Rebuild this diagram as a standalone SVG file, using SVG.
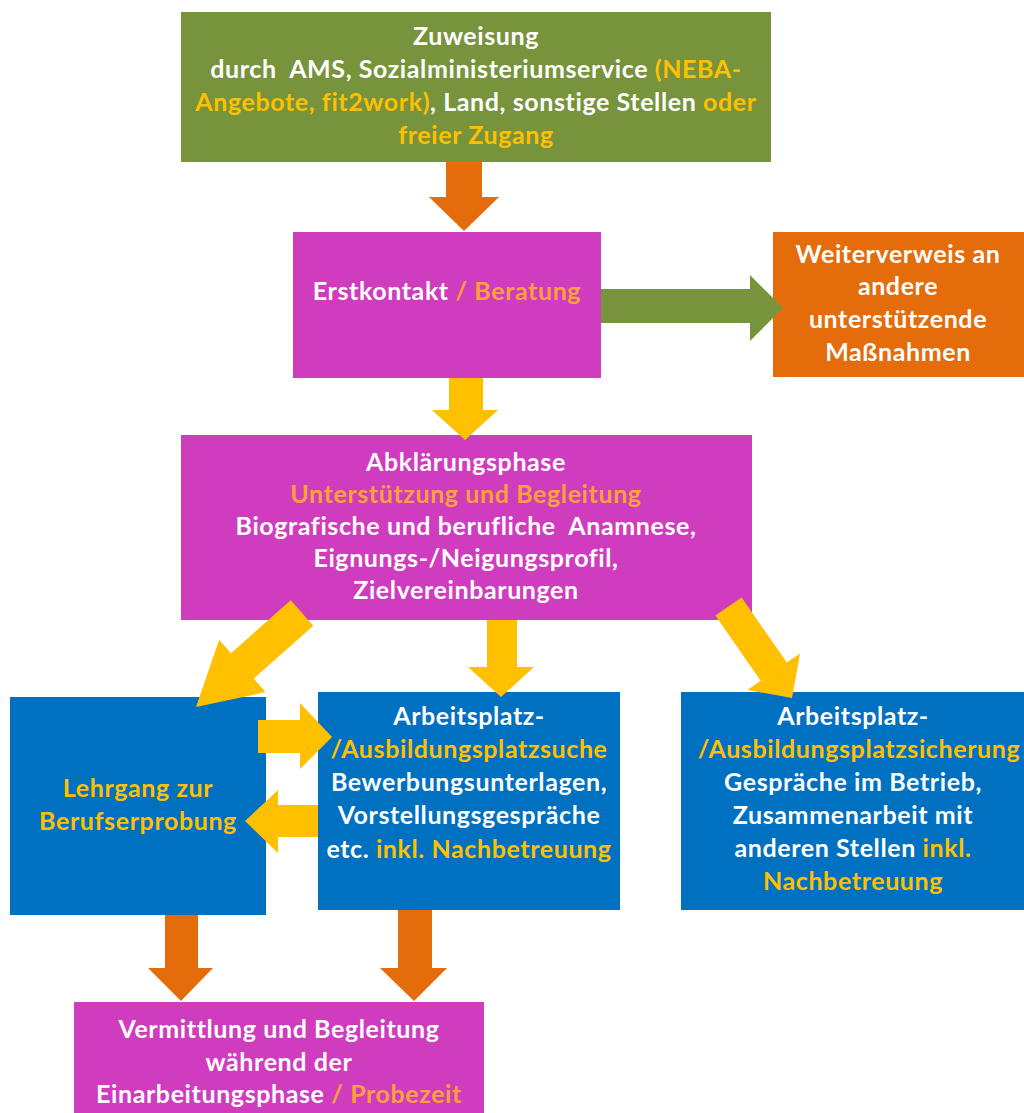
<svg xmlns="http://www.w3.org/2000/svg" width="1024" height="1113" viewBox="0 0 1024 1113">
<style>
  .t { font-family: Lato, "Open Sans", "Liberation Sans", sans-serif; font-weight: 700; font-size: 25px; letter-spacing: 0.6px; fill: #FFFFFF; text-anchor: middle; white-space: pre; }
  .y { fill: #FFC000; }
  .o { fill: #FBA13C; }
  .green { fill: #77933C; }
  .pink { fill: #D03CBE; }
  .orange { fill: #E46C0A; }
  .blue { fill: #0070C0; }
  .ay { fill: #FFC000; }
  .ag { fill: #77933C; }
  .ao { fill: #E46C0A; }
</style>
<rect width="1024" height="1113" fill="#FFFFFF"/>

<g id="zuweisung">
  <rect class="green" x="181" y="12" width="590" height="150"/>
  <text class="t" x="476" y="45">Zuweisung</text>
  <text class="t" x="476" y="78" xml:space="preserve">durch  AMS, Sozialministeriumservice <tspan class="y">(NEBA-</tspan></text>
  <text class="t" x="476" y="111"><tspan class="y">Angebote, fit2work)</tspan>, Land, sonstige Stellen <tspan class="y">oder</tspan></text>
  <text class="t y" x="476" y="144">freier Zugang</text>
</g>

<g id="erstkontakt">
  <rect class="pink" x="293" y="232" width="308" height="146"/>
  <text class="t" x="447" y="300">Erstkontakt <tspan class="o">/ Beratung</tspan></text>
</g>

<g id="weiterverweis">
  <rect class="orange" x="773" y="232" width="251" height="145"/>
  <text class="t" x="898" y="263">Weiterverweis an</text>
  <text class="t" x="898" y="295">andere</text>
  <text class="t" x="898" y="328">unterstützende</text>
  <text class="t" x="898" y="361">Maßnahmen</text>
</g>

<g id="abklaerung">
  <rect class="pink" x="181" y="435" width="571" height="185"/>
  <text class="t" x="466" y="471">Abklärungsphase</text>
  <text class="t o" x="466" y="503">Unterstützung und Begleitung</text>
  <text class="t" x="466" y="535" xml:space="preserve">Biografische und berufliche  Anamnese,</text>
  <text class="t" x="466" y="567">Eignungs-/Neigungsprofil,</text>
  <text class="t" x="466" y="599">Zielvereinbarungen</text>
</g>

<g id="lehrgang">
  <rect class="blue" x="10" y="697" width="256" height="218"/>
  <text class="t y" x="138" y="797">Lehrgang zur</text>
  <text class="t y" x="138" y="830">Berufserprobung</text>
</g>

<g id="suche">
  <rect class="blue" x="318" y="692" width="302" height="218"/>
  <text class="t" x="469" y="725">Arbeitsplatz-</text>
  <text class="t y" x="469" y="758">/Ausbildungsplatzsuche</text>
  <text class="t" x="469" y="791">Bewerbungsunterlagen,</text>
  <text class="t" x="469" y="824">Vorstellungsgespräche</text>
  <text class="t" x="469" y="858">etc. <tspan class="y">inkl. Nachbetreuung</tspan></text>
</g>

<g id="sicherung">
  <rect class="blue" x="681" y="692" width="343" height="218"/>
  <text class="t" x="853" y="725">Arbeitsplatz-</text>
  <text class="t y" x="859" y="758">/Ausbildungsplatzsicherung</text>
  <text class="t" x="853" y="791">Gespräche im Betrieb,</text>
  <text class="t" x="853" y="824">Zusammenarbeit mit</text>
  <text class="t" x="853" y="857">anderen Stellen <tspan class="y">inkl.</tspan></text>
  <text class="t y" x="853" y="890">Nachbetreuung</text>
</g>

<g id="vermittlung">
  <rect class="pink" x="74" y="1002" width="410" height="111"/>
  <text class="t" x="279" y="1038">Vermittlung und Begleitung</text>
  <text class="t" x="279" y="1071">während der</text>
  <text class="t" x="279" y="1103">Einarbeitungsphase <tspan class="o">/ Probezeit</tspan></text>
</g>

<g id="connectors">
  <polygon class="ao" points="446,161 482,161 482,197 499,197 464,231 429,197 446,197"/>
  <polygon class="ag" points="601,289 750,289 750,275 783,308 750,341 750,323 601,323"/>
  <polygon class="ay" points="449,378 483,378 483,410 498,410 465,440 432,410 449,410"/>
  <polygon class="ay" points="290.7,600.3 313.3,625.7 253.7,678.6 265.6,692.1 196,707 219.2,639.7 231.1,653.2"/>
  <polygon class="ay" points="487,620 517,620 517,667 534,667 501,697 468,667 487,667"/>
  <polygon class="ay" points="741.6,597.4 786.8,662.6 800,653.4 792,698 747.4,690 760.6,680.8 715.4,615.6"/>
  <polygon class="ay" points="258,720 300,720 300,703 332,737 300,769 300,753 258,753"/>
  <polygon class="ay" points="318,805 278,805 278,790 245,821 278,853 278,837 318,837"/>
  <polygon class="ao" points="165,915 198,915 198,968 213,968 181,1001 148,968 165,968"/>
  <polygon class="ao" points="398,910 432,910 432,968 447,968 414,1001 380,968 398,968"/>
</g>
</svg>
